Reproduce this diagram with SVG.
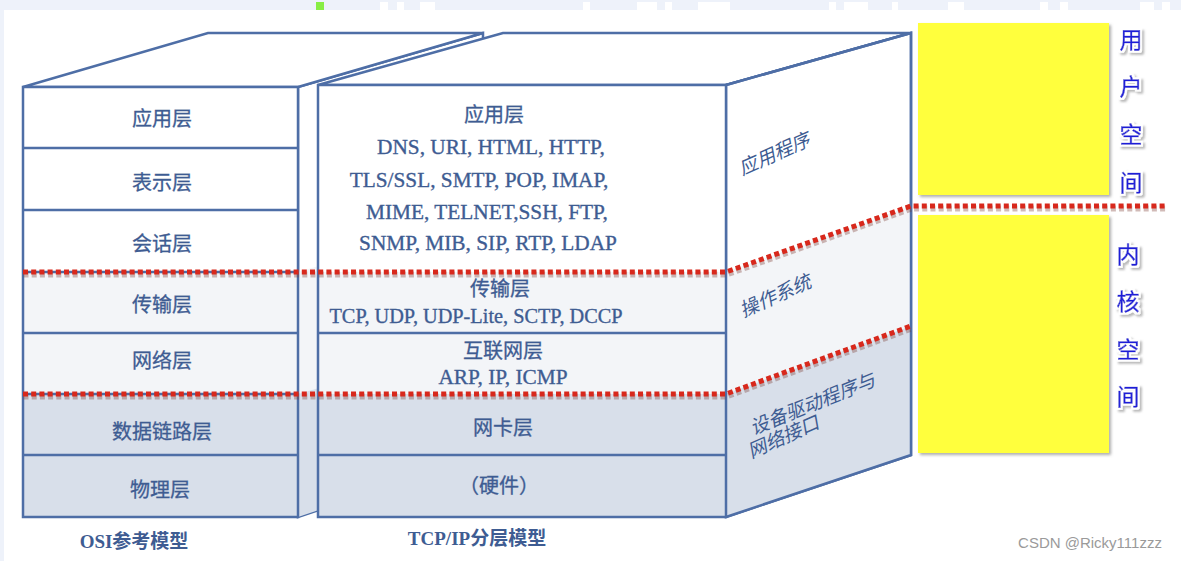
<svg xmlns="http://www.w3.org/2000/svg" width="1181" height="561" viewBox="0 0 1181 561">
<style>
.edge{fill:none;stroke:#4e6ea6;stroke-width:2.5;stroke-linejoin:miter}
.face{stroke:#4e6ea6;stroke-width:2.5}
.lbl{font-family:"Liberation Serif","Noto Sans CJK SC",serif;font-size:20px;fill:#3e5c92;text-anchor:middle;stroke:#3e5c92;stroke-width:0.3}
.proto{font-family:"Liberation Serif","Noto Sans CJK SC",serif;font-size:21.3px;fill:#3e5c92;text-anchor:middle;stroke:#3e5c92;stroke-width:0.35}
.side{font-family:"Noto Sans CJK SC",sans-serif;font-size:19px;fill:#3e5c92;text-anchor:middle;font-style:italic}
.cap{font-family:"Liberation Serif","Noto Sans CJK SC",serif;font-size:19px;font-weight:bold;fill:#3e5c92;text-anchor:middle}
.red{fill:none;stroke:#d8281c;stroke-width:5;stroke-dasharray:5 3.2}
.redsh{fill:none;stroke:#7a3a30;stroke-opacity:0.35;stroke-width:6;stroke-dasharray:5 3.2}
.vert{font-family:"Noto Sans CJK SC",sans-serif;font-size:23px;fill:#2020d8;stroke:#2020d8;stroke-width:0.5;text-anchor:middle}
.yel{fill:#ffff3c}
</style>
<defs>
<filter id="halo" x="-30%" y="-30%" width="160%" height="160%">
<feMorphology in="SourceAlpha" operator="dilate" radius="1.5" result="d"/>
<feGaussianBlur in="d" stdDeviation="1" result="b"/>
<feOffset in="b" dx="1.5" dy="1.5" result="o"/>
<feFlood flood-color="#888888" flood-opacity="0.6"/>
<feComposite in2="o" operator="in" result="sh"/>
<feFlood flood-color="#ffffff"/>
<feComposite in2="d" operator="in" result="wh"/>
<feMerge><feMergeNode in="sh"/><feMergeNode in="wh"/><feMergeNode in="SourceGraphic"/></feMerge>
</filter>
<filter id="ysh" x="-5%" y="-5%" width="115%" height="115%">
<feGaussianBlur in="SourceAlpha" stdDeviation="1.5"/>
<feOffset dx="2" dy="2" result="o"/>
<feFlood flood-color="#777" flood-opacity="0.6"/>
<feComposite in2="o" operator="in"/>
<feMerge><feMergeNode/><feMergeNode in="SourceGraphic"/></feMerge>
</filter>
</defs>

<rect x="0" y="0" width="1181" height="561" fill="#eef2fa"/>
<rect x="4" y="10" width="1177" height="551" fill="#ffffff"/>
<rect x="316" y="2" width="8" height="8" fill="#88ee44"/>
<g fill="#ffffff">
<rect x="380" y="2" width="8" height="8"/><rect x="397" y="2" width="7" height="8"/><rect x="420" y="2" width="15" height="8"/>
<rect x="583" y="2" width="7" height="8"/><rect x="637" y="2" width="20" height="8"/><rect x="665" y="2" width="7" height="8"/>
<rect x="698" y="2" width="32" height="8"/><rect x="829" y="2" width="7" height="8"/><rect x="844" y="2" width="24" height="8"/>
<rect x="892" y="2" width="6" height="8"/><rect x="948" y="2" width="16" height="8"/><rect x="1040" y="2" width="8" height="8"/>
<rect x="1060" y="2" width="8" height="8"/><rect x="1140" y="2" width="14" height="8"/><rect x="1162" y="2" width="8" height="8"/>
</g>

<g id="osi">
<polygon class="face" points="298,87 483,33 483,455 298,517" fill="#ffffff"/>
<polygon points="298,272 483,218 483,340 298,394" fill="#f3f5f8"/>
<polygon points="298,394 483,340 483,455 298,517" fill="#d8dfea"/>
<polygon class="face" points="23,87 208,33 483,33 298,87" fill="#ffffff"/>
<rect x="23" y="87" width="275" height="185" fill="#ffffff"/>
<rect x="23" y="272" width="275" height="122" fill="#f3f5f8"/>
<rect x="23" y="394" width="275" height="123" fill="#d8dfea"/>
<rect class="edge" x="23" y="87" width="275" height="430"/>
<path class="edge" d="M23,148H298M23,210H298M23,272H298M23,333H298M23,394H298M23,455H298"/>
<text class="lbl" x="162" y="126">应用层</text>
<text class="lbl" x="162" y="190">表示层</text>
<text class="lbl" x="162" y="251">会话层</text>
<text class="lbl" x="162" y="312">传输层</text>
<text class="lbl" x="162" y="368">网络层</text>
<text class="lbl" x="162" y="439">数据链路层</text>
<text class="lbl" x="160" y="497">物理层</text>
<text class="cap" x="134" y="548">OSI参考模型</text>
</g>

<g id="tcpip">
<polygon class="face" points="318,85 503,33 911,33 726,85" fill="#ffffff"/>
<polygon class="face" points="726,85 911,33 911,455 726,517" fill="#ffffff"/>
<polygon points="726,272 911,206 911,326 726,394" fill="#f3f5f8"/>
<polygon points="726,394 911,326 911,455 726,517" fill="#d8dfea"/>
<path class="edge" d="M726,85L911,33V455L726,517"/>
<rect x="318" y="85" width="408" height="187" fill="#ffffff"/>
<rect x="318" y="272" width="408" height="122" fill="#f3f5f8"/>
<rect x="318" y="394" width="408" height="123" fill="#d8dfea"/>
<rect class="edge" x="318" y="85" width="408" height="432"/>
<path class="edge" d="M318,333H726M318,455H726"/>
<text class="lbl" x="494" y="122">应用层</text>
<text class="proto" x="491" y="154">DNS, URI, HTML, HTTP,</text>
<text class="proto" x="479" y="187">TLS/SSL, SMTP, POP, IMAP,</text>
<text class="proto" x="487" y="219">MIME, TELNET,SSH, FTP,</text>
<text class="proto" x="488" y="250">SNMP, MIB, SIP, RTP, LDAP</text>
<text class="lbl" x="500" y="296">传输层</text>
<text class="proto" x="476" y="323" style="font-size:20.3px">TCP, UDP, UDP-Lite, SCTP, DCCP</text>
<text class="lbl" x="503" y="358">互联网层</text>
<text class="proto" x="503" y="384">ARP, IP, ICMP</text>
<text class="lbl" x="503" y="435">网卡层</text>
<text class="lbl" x="499" y="493">（硬件）</text>
<text class="cap" x="477" y="545">TCP/IP分层模型</text>
<text class="side" transform="translate(777,160) rotate(-24)">应用程序</text>
<text class="side" transform="translate(778,302) rotate(-24)">操作系统</text>
<text class="side" transform="translate(815,410) rotate(-22)">设备驱动程序与</text>
<text class="side" transform="translate(786,443) rotate(-24)">网络接口</text>
</g>

<g id="user-space">
<rect class="yel" x="918" y="23" width="191" height="172" filter="url(#ysh)"/>
<g filter="url(#halo)">
<text class="vert" x="1131" y="48">用</text>
<text class="vert" x="1131" y="95">户</text>
<text class="vert" x="1131" y="143">空</text>
<text class="vert" x="1131" y="191">间</text>
</g>
</g>

<g id="kernel-space">
<rect class="yel" x="918" y="215" width="191" height="238" filter="url(#ysh)"/>
<g filter="url(#halo)">
<text class="vert" x="1128" y="263">内</text>
<text class="vert" x="1128" y="310">核</text>
<text class="vert" x="1128" y="358">空</text>
<text class="vert" x="1128" y="405">间</text>
</g>
</g>

<g id="connectors">
<path class="redsh" d="M23,273.5H726L911,207.5H1165" transform="translate(0.5,1)"/>
<path class="red" d="M23,272H726L911,206H1165"/>
<path class="redsh" d="M23,395.5H726L911,327.5" transform="translate(0.5,1)"/>
<path class="red" d="M23,394H726L911,326"/>
</g>

<text x="1090" y="548" font-family="Liberation Sans, Arial, sans-serif" font-size="15" fill="#9a9a9a" text-anchor="middle">CSDN @Ricky111zzz</text>
</svg>
